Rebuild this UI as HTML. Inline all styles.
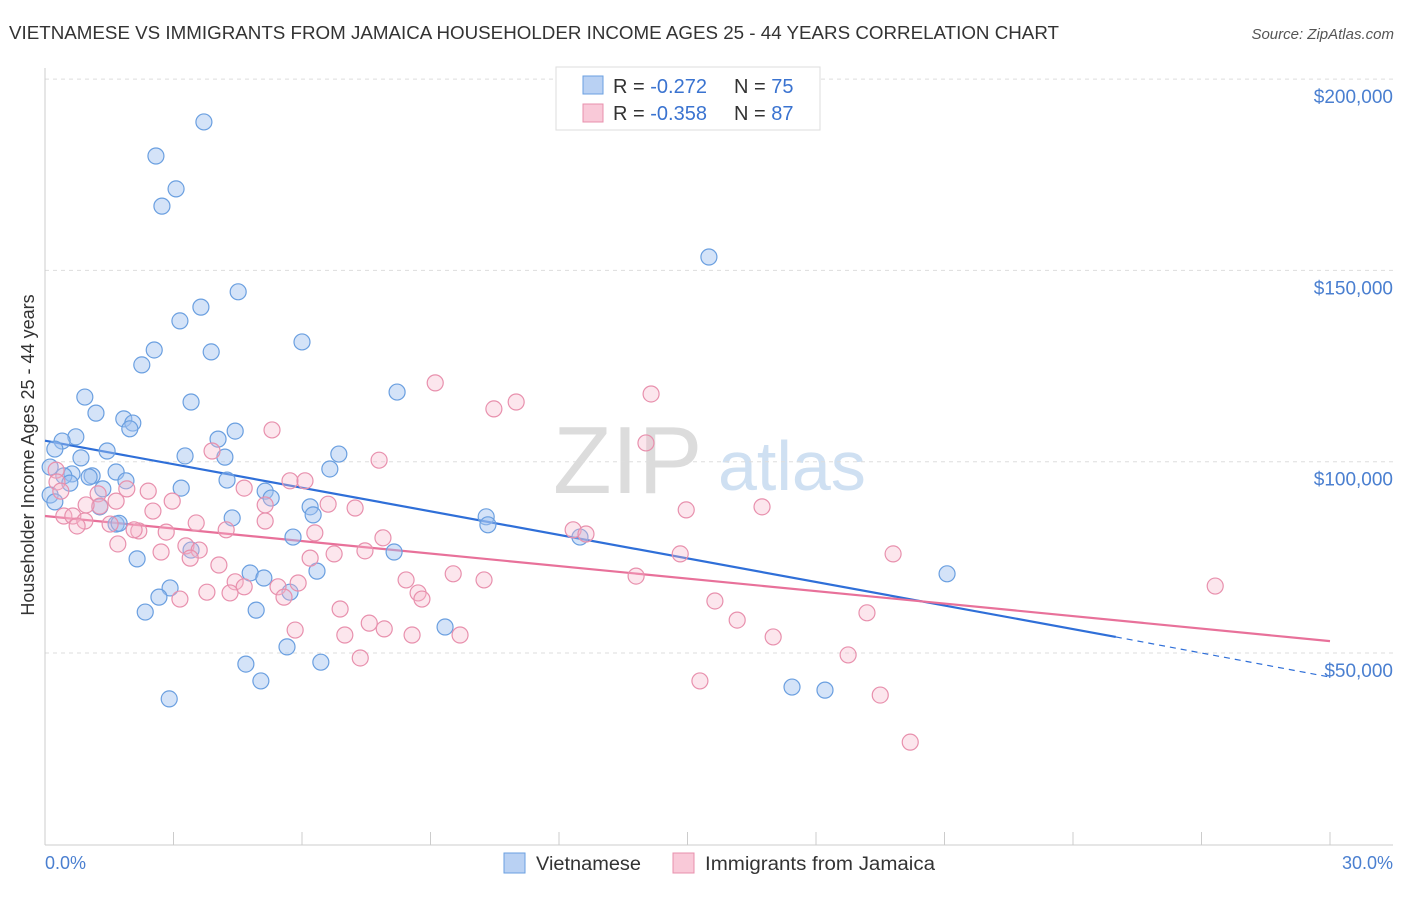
<!DOCTYPE html>
<html><head><meta charset="utf-8"><style>
body{margin:0;background:#fff;font-family:"Liberation Sans",sans-serif;}
svg text{font-family:"Liberation Sans",sans-serif;}
</style></head><body>
<svg id="chart" width="1406" height="892">
<text x="9" y="39" font-size="18" fill="#333" textLength="1050" lengthAdjust="spacingAndGlyphs">VIETNAMESE VS IMMIGRANTS FROM JAMAICA HOUSEHOLDER INCOME AGES 25 - 44 YEARS CORRELATION CHART</text>
<text x="1394" y="39" font-size="15" fill="#555" font-style="italic" text-anchor="end">Source: ZipAtlas.com</text>
<g>
<text x="553" y="493" font-size="96" fill="#dcdcdc" font-family="Liberation Serif">ZIP</text>
<text x="718" y="490" font-size="70" fill="#cfe0f2">atlas</text>
</g>
<g id="grid"></g><g id="axes"></g><g id="lines"></g><g id="pts"></g>
<text x="34" y="455" font-size="18" fill="#333" transform="rotate(-90 34 455)" text-anchor="middle">Householder Income Ages 25 - 44 years</text>
<text x="45" y="869" font-size="18" fill="#4a7fd0">0.0%</text>
<text x="1393" y="869" font-size="18" fill="#4a7fd0" text-anchor="end">30.0%</text>
<g>
<rect x="556" y="67" width="264" height="63" fill="#fff" stroke="#ddd"/>
<rect x="583" y="76" width="20" height="18" fill="#b9d1f3" stroke="#6a9fe0"/>
<rect x="583" y="104" width="20" height="18" fill="#f9c9d8" stroke="#e890ad"/>
<text x="613" y="93" font-size="20" fill="#333">R = <tspan fill="#3a73d0">-0.272</tspan></text>
<text x="734" y="93" font-size="20" fill="#333">N = <tspan fill="#3a73d0">75</tspan></text>
<text x="613" y="120" font-size="20" fill="#333">R = <tspan fill="#3a73d0">-0.358</tspan></text>
<text x="734" y="120" font-size="20" fill="#333">N = <tspan fill="#3a73d0">87</tspan></text>
</g>
<g>
<rect x="504" y="853" width="21" height="20" fill="#b9d1f3" stroke="#6a9fe0"/>
<text x="536" y="870" font-size="19" fill="#333" textLength="105" lengthAdjust="spacingAndGlyphs">Vietnamese</text>
<rect x="673" y="853" width="21" height="20" fill="#f9c9d8" stroke="#e890ad"/>
<text x="705" y="870" font-size="19" fill="#333" textLength="230" lengthAdjust="spacingAndGlyphs">Immigrants from Jamaica</text>
</g>
</svg>
<script>
const yTicks=[50000,100000,150000,200000];
const yTickLabels=["$50,000","$100,000","$150,000","$200,000"];
const xTicks=[0,3,6,9,12,15,18,21,24,27,30];
const blueX=[3.71,2.59,3.06,2.73,15.50,4.51,3.64,3.15,6.00,2.55,3.88,2.26,8.22,0.93,3.41,1.19,1.84,2.05,1.98,4.44,0.72,4.04,0.40,0.23,1.45,6.86,3.27,4.20,0.84,0.12,6.65,0.63,1.10,0.44,1.03,1.66,4.25,0.58,1.89,3.18,5.14,5.28,1.35,0.12,0.23,1.28,6.19,6.26,4.37,10.30,10.34,1.66,1.73,5.79,12.49,8.15,3.41,2.15,6.35,4.79,21.06,5.11,2.92,5.72,2.66,4.93,2.34,9.34,5.65,6.44,4.69,5.04,17.44,18.21,2.90];
const blueY=[188.8,179.9,171.3,166.8,153.5,144.4,140.4,136.8,131.3,129.2,128.7,125.3,118.2,116.9,115.6,112.7,111.2,110.1,108.6,108.0,106.5,105.9,105.4,103.3,102.8,102.0,101.5,101.2,101.0,98.6,98.1,96.8,96.3,96.3,96.0,97.3,95.2,94.4,95.0,93.1,92.3,90.5,92.9,91.3,89.5,88.2,88.2,86.1,85.3,85.6,83.5,83.7,83.9,80.3,80.3,76.4,76.9,74.6,71.4,70.9,70.7,69.6,67.0,65.9,64.6,61.2,60.7,56.8,51.6,47.6,47.1,42.7,41.1,40.3,38.0];
const pinkX=[9.11,14.15,11.00,10.48,5.30,14.03,3.90,7.80,0.26,0.28,1.91,1.24,0.37,2.41,5.72,6.07,4.65,2.97,5.14,6.61,7.24,1.28,1.66,14.97,16.74,2.52,0.44,0.65,0.93,0.75,1.52,5.14,3.53,4.23,2.19,2.83,7.89,12.33,12.63,1.70,2.71,3.29,3.60,6.30,6.75,7.47,6.19,14.83,19.80,3.39,4.06,9.53,13.80,10.25,8.43,4.44,4.65,5.44,5.91,8.71,3.78,4.32,5.58,8.80,3.15,15.64,6.89,19.19,16.16,7.57,5.84,7.00,7.92,8.57,9.69,17.00,18.75,7.36,15.29,19.50,20.20,27.32,2.08,0.96];
const pinkY=[120.6,117.7,115.6,113.8,108.3,104.9,102.8,100.4,97.8,94.7,92.9,91.6,92.3,92.3,95.0,95.0,93.1,89.7,88.7,88.9,87.9,88.4,89.7,87.4,88.2,87.1,85.8,85.8,84.5,83.2,83.7,84.5,84.0,82.2,81.9,81.6,80.1,82.2,81.1,78.5,76.4,78.0,76.9,81.4,75.9,76.7,74.8,75.9,75.9,74.8,73.0,70.7,70.1,69.1,69.1,68.6,67.3,67.3,68.3,65.7,65.9,65.7,64.6,64.1,64.1,63.6,61.5,60.5,58.6,57.8,56.0,54.7,56.3,54.7,54.7,54.2,49.5,48.7,42.7,39.0,26.7,67.5,82.2,88.7];
const blueTrend=[105.5,54.2,43.7];
const blueTrendX=[0,25,30];
const pinkTrend=[85.8,53.1];
const pinkTrendX=[0,30];

const NS="http://www.w3.org/2000/svg";
const xs=p=>45+p*(1285/30);
const ys=v=>653-(v-50000)*191.3/50000;
function mk(t,a,parent){const e=document.createElementNS(NS,t);for(const k in a)e.setAttribute(k,a[k]);parent.appendChild(e);return e;}
const grid=document.getElementById('grid'),axes=document.getElementById('axes'),lines=document.getElementById('lines'),pts=document.getElementById('pts');
yTicks.forEach((v,i)=>{
 const l=mk('line',{x1:45,x2:1393,y1:ys(v),y2:ys(v),stroke:'#ddd','stroke-dasharray':'4,4'},grid);
 
 
 const t=mk('text',{x:1393,y:ys(v)+24,'font-size':19,fill:'#4a7fd0','text-anchor':'end'},grid);
 t.textContent=yTickLabels[i];
 
 
});
const xa=mk('line',{x1:45,x2:1393,y1:845,y2:845,stroke:'#ccc'},axes);


const ya=mk('line',{x1:45,x2:45,y1:68,y2:845,stroke:'#ccc'},axes);


xTicks.forEach(p=>{
 const t=mk('line',{x1:xs(p),x2:xs(p),y1:832,y2:845,stroke:'#ccc'},axes);
 
 
});
function drawPts(X,Y,fill,stroke,name){
 X.forEach((p,i)=>{
  const c=mk('circle',{cx:xs(p),cy:ys(Y[i]*1000),r:8,fill:fill,stroke:stroke,'stroke-width':1.2},pts);
  
  
 });
}
drawPts(blueX,blueY,'rgba(160,192,240,0.45)','#6a9fe0','vietnamese-point');
drawPts(pinkX,pinkY,'rgba(246,182,202,0.35)','#e890ad','jamaica-point');
const b1=mk('line',{x1:xs(blueTrendX[0]),y1:ys(blueTrend[0]*1000),x2:xs(blueTrendX[1]),y2:ys(blueTrend[1]*1000),stroke:'#2f6fd8','stroke-width':2.2},lines);


const b2=mk('line',{x1:xs(blueTrendX[1]),y1:ys(blueTrend[1]*1000),x2:xs(blueTrendX[2]),y2:ys(blueTrend[2]*1000),stroke:'#2f6fd8','stroke-width':1.2,'stroke-dasharray':'6,5'},lines);


const p1=mk('line',{x1:xs(pinkTrendX[0]),y1:ys(pinkTrend[0]*1000),x2:xs(pinkTrendX[1]),y2:ys(pinkTrend[1]*1000),stroke:'#e8719a','stroke-width':2.2},lines);


</script>
</body></html>
